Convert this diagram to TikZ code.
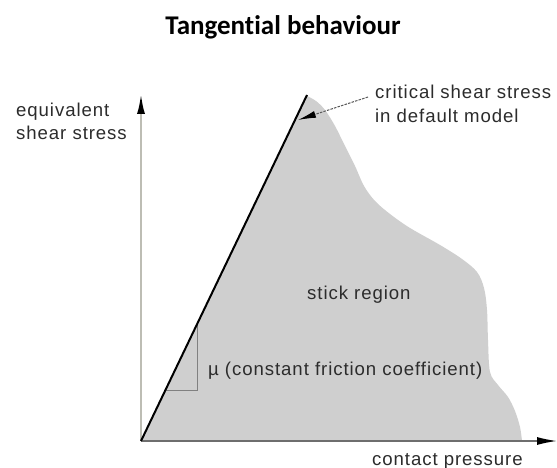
\documentclass[tikz,border=0pt]{standalone}
\usepackage{fontspec}
\setmainfont{Liberation Sans}[LetterSpace=5]
\newfontfamily\titlefont{Carlito}[Ligatures=NoCommon]
\usetikzlibrary{arrows.meta}
\definecolor{regiongray}{HTML}{CFCFCF}
\definecolor{labelink}{HTML}{2C2C2C}
\definecolor{paleaxis}{HTML}{BDBDB4}
\definecolor{darkaxis}{HTML}{6E6E6E}
\tikzset{
  label text/.style={font=\fontsize{18.6}{24}\selectfont, text=labelink, inner sep=0pt},
  title text/.style={font=\titlefont\bfseries\fontsize{27}{30}\selectfont, inner sep=0pt},
  pale axis/.style={draw=paleaxis, line width=2.6pt, -{Latex[length=21pt,width=8pt,color=black]}},
  dark axis/.style={draw=darkaxis, line width=1.4pt, -{Latex[length=20pt,width=8pt,color=black]}},
  limit line/.style={draw=black, line width=2pt},
  slope mark/.style={draw=gray, line width=1pt},
  leader/.style={draw=gray!70!black, line width=1pt, dash pattern=on 2.5pt off 1.2pt,
    -{Latex[length=18pt,width=7pt,color=black]}},
}
\begin{document}
\begin{tikzpicture}[x=1pt,y=-1pt]
  \useasboundingbox[fill=white] (0,0) rectangle (557,468);

  % key points of the diagram
  \coordinate (O) at (141,441);
  \coordinate (ytop) at (141,93);
  \coordinate (xend) at (557,441);
  \coordinate (peak) at (307,95);
  \coordinate (tip) at (298,120);
  \coordinate (leadstart) at (368,97);
  \coordinate (slopeA) at (165.5,390);
  \coordinate (slopeB) at (197,390);
  \coordinate (slopeC) at (197,324);

  % stick region
  \fill[regiongray] (O) -- (peak) -- plot[smooth, tension=0.55] coordinates {
    (307,96) (316,101) (325,110) (335,126) (345,146) (355,166) (364,186)
    (375,201) (390,214) (410,228) (440,245) (462,259) (477,272) (484,288)
    (487,310) (488,340) (490,372) (498,385) (508,397) (515,411) (520,427) (522,441)
  } -- cycle;

  % axes
  \draw[pale axis] (O) -- (ytop);
  \draw[dark axis] (O) -- (xend);

  % friction slope triangle
  \draw[slope mark] (slopeA) -- (slopeB) -- (slopeC);

  % critical shear stress line
  \draw[limit line] (O) -- (peak);

  % title
  \node[title text, anchor=base] (title) at (283,35) {Tangential behaviour};

  % labels (multi-line nodes are placed by the baseline of their last line)
  \node[label text, anchor=base west, align=left] (ylab) at (16,140) {equivalent\\shear stress};
  \node[label text, anchor=base west] (xlab) at (372,465) {contact pressure};
  \node[label text, anchor=base west] (stick) at (307,299) {stick region};
  \node[label text, anchor=base west] (mu) at (208,375) {µ (constant friction coefficient)};
  \node[label text, anchor=base west, align=left] (crit) at (375,123) {critical shear stress\\in default model};

  % leader to the limit line
  \draw[leader] (leadstart) -- (tip);
\end{tikzpicture}
\end{document}
